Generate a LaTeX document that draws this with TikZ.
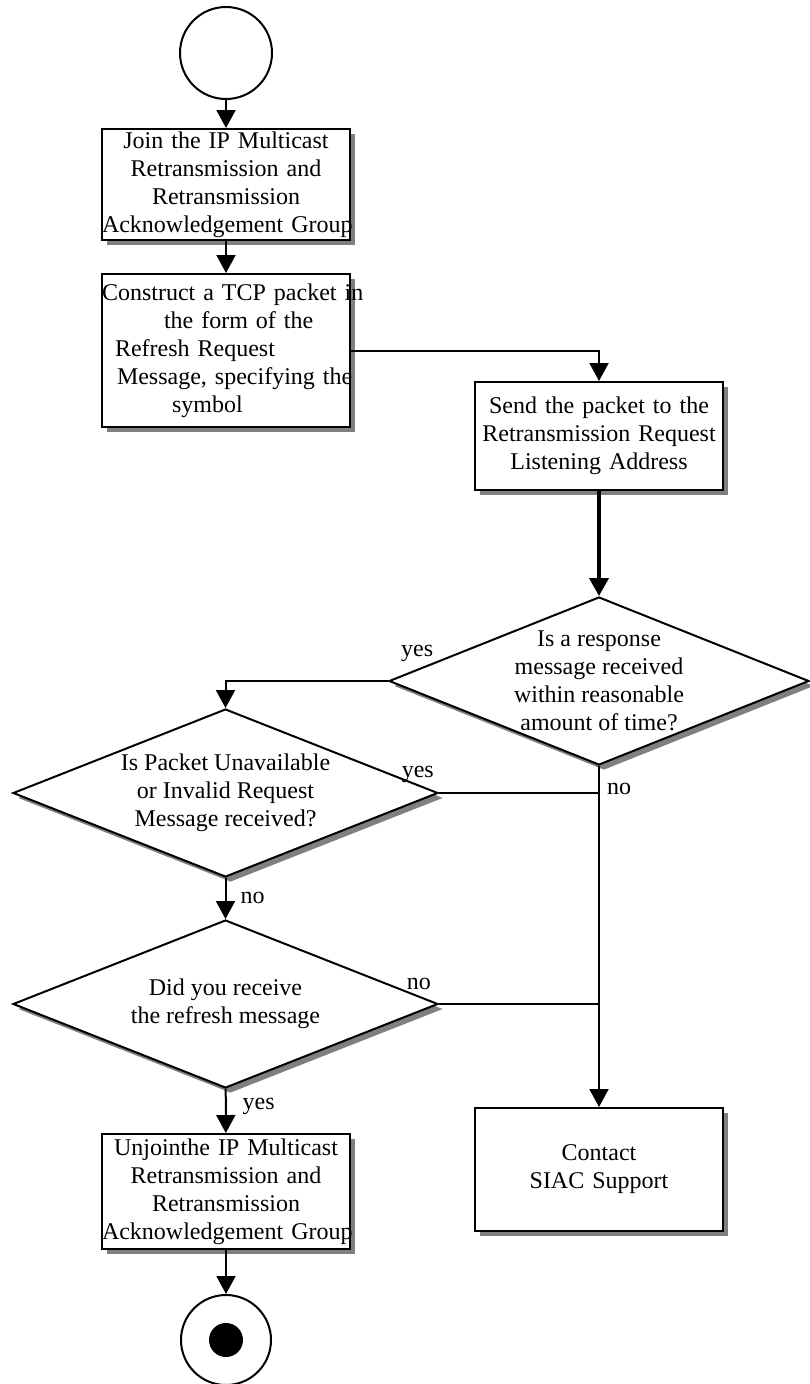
\documentclass[tikz,border=0pt]{standalone}
\usepackage{fontspec}
\setmainfont{Liberation Serif}
\usetikzlibrary{shapes.geometric,arrows.meta,positioning,shadows}
\tikzset{
>={Triangle[length=18pt,width=19pt]},
  boxshadow/.style={
    drop shadow={shadow xshift=5pt, shadow yshift=-5pt, fill=black!50, opacity=1}},
  stepbox/.style={
    rectangle,
    draw=black, line width=2pt,
    fill=white,
    text width=248pt,
    align=center,
    inner sep=0pt,
    boxshadow},
  decision/.style={
    diamond,
    draw=black, line width=2pt,
    fill=white,
    aspect=2.5,
    inner sep=0pt,
    boxshadow},
  terminal/.style={circle, draw=black, line width=2pt, fill=white, inner sep=0pt},
  line/.style={draw, line width=2pt},
  lbl/.style={inner sep=0pt, text height=16pt, text depth=5pt},
}
\begin{document}
\begin{tikzpicture}[
    x=1pt, y=-1pt,
    every node/.style={font=\fontsize{24}{28}\selectfont},
    heavy/.style={line width=4pt}
    ]
    \useasboundingbox (0,0) rectangle (809,1384);

    % start and end
    \node[terminal, minimum size=92pt] (start) at (226,53) {};
    \node[terminal, minimum size=90pt] (stop) at (226,1340) {};
    \fill (stop.center) circle (17pt);

    % boxes
    \node[stepbox, minimum height=111pt] (join) at (226,184.5)
         {Join the IP Multicast\\Retransmission and\\Retransmission\\\mbox{Acknowledgement Group}};
    \node[stepbox, minimum height=153pt, align=left] (build) at (226,350.5)
         {\mbox{Construct a TCP packet in}\\\hspace*{62pt}the form of the\\\hspace*{13pt}Refresh Request\\\mbox{\hspace*{15pt}Message, specifying the}\\\hspace*{70pt}symbol};
    \node[stepbox, minimum height=108pt] (send) at (599,436)
         {Send the packet to the\\Retransmission Request\\Listening Address};
    \node[stepbox, minimum height=123pt] (contact) at (599,1169.5)
         {Contact\\SIAC Support};
    \node[stepbox, minimum height=115pt] (unjoin) at (226,1191.5)
         {Unjointhe IP Multicast\\Retransmission and\\Retransmission\\\mbox{Acknowledgement Group}};

    % decisions
    \node[decision, minimum width=420pt, minimum height=168pt] (resp) at (599,681) {};
    \node[align=center] (resptxt) at (resp) {Is a response\\message received\\within reasonable\\amount of time?};
    \node[decision, minimum width=425pt, minimum height=168pt] (invalid) at (225.5,793) {};
    \node[align=center] (invalidtxt) at (invalid) {Is Packet Unavailable\\or Invalid Request\\Message received?};
    \node[decision, minimum width=425pt, minimum height=168pt] (refresh) at (225.5,1004) {};
    \node[align=center] (refreshtxt) at (refresh) {Did you receive\\the refresh message};

    % connectors
    \draw[line, ->] (start) -- (join);
    \draw[line, ->] (join) -- (build);
    \draw[line, ->] (build.east) -| (send.north);
    \draw[line, heavy, ->] (send) -- (resp);
    \draw[line, ->] (resp.west) -| (invalid.north);
    \draw[line, ->] (resp.south) -- (contact.north);
    \draw[line] (invalid.east) -- (invalid.east -| resp.south);
    \draw[line, ->] (invalid) -- (refresh);
    \draw[line] (refresh.east) -- (refresh.east -| resp.south);
    \draw[line, ->] (refresh) -- (unjoin);
    \draw[line, ->] (unjoin) -- (stop);

    % yes / no
    \node[lbl, above right=19pt and 13pt of resp.west] (respyes) {yes};
    \node[lbl, below right=12pt and 8pt of resp.south] (respno) {no};
    \node[lbl, above left=10pt and 5pt of invalid.east] (invalidyes) {yes};
    \node[lbl, below right=9pt and 15pt of invalid.south] (invalidno) {no};
    \node[lbl, above left=9pt and 8pt of refresh.east] (refreshno) {no};
    \node[lbl, below right=4pt and 17pt of refresh.south] (refreshyes) {yes};
\end{tikzpicture}
\end{document}
